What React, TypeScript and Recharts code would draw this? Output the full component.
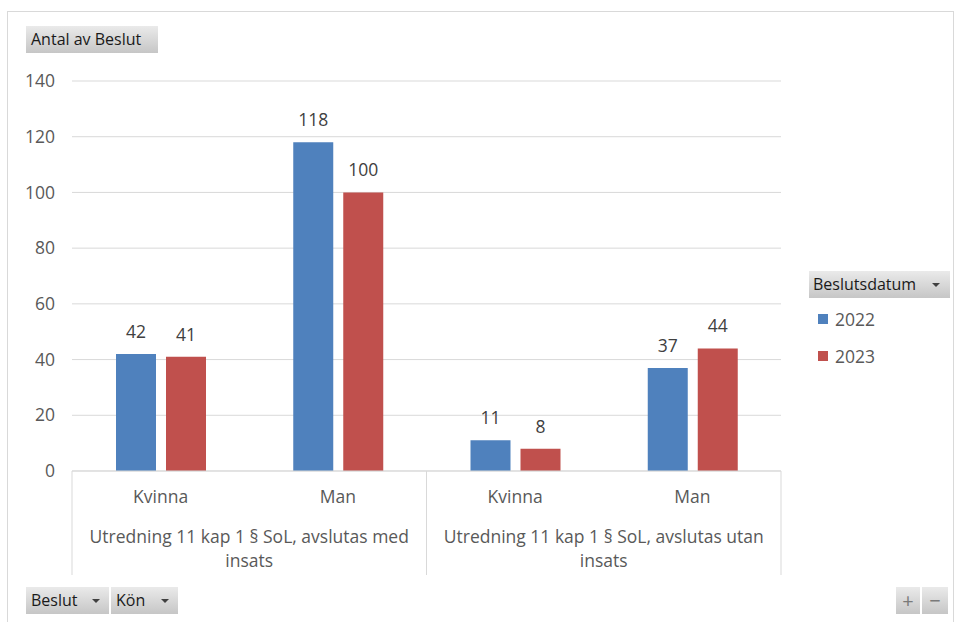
import { BarChart, Bar, XAxis, YAxis, CartesianGrid, LabelList, Legend } from 'recharts';
import type { CSSProperties } from 'react';

// pivot data: Beslut x Kön, series per Beslutsdatum year
const genders = ['Kvinna', 'Man', 'Kvinna', 'Man'];
const groupIndex = [0, 0, 1, 1];
const groupLabels = [
  ['Utredning 11 kap 1 § SoL, avslutas med', 'insats'],
  ['Utredning 11 kap 1 § SoL, avslutas utan', 'insats'],
];
const values2022 = [42, 118, 11, 37];
const values2023 = [41, 100, 8, 44];
const yTicks = [0, 20, 40, 60, 80, 100, 120, 140];

const data = genders.map((g, i) => ({
  gender: g,
  group: groupIndex[i],
  y2022: values2022[i],
  y2023: values2023[i],
}));

const FONT = '"Open Sans", "Liberation Sans", sans-serif';
const TEXT = '#595959';
const GRID = '#d9d9d9';
const FS = 17.5;

function CategoryTick(props: any) {
  const { x, y, payload } = props;
  const i = payload.index;
  const half = payload.offset ?? 88.6;
  const g = data[i].group;
  const first = i === 0 || data[i - 1].group !== g;
  const last = i === data.length - 1;
  const count = data.filter((d) => d.group === g).length;
  const cx = x - half + count * half;
  return (
    <g fontFamily={FONT} fontSize={FS} fill={TEXT}>
      <text x={x} y={y + 32} textAnchor="middle">{payload.value}</text>
      {first && <line x1={x - half} x2={x - half} y1={y} y2={y + 104} stroke={GRID} />}
      {last && <line x1={x + half} x2={x + half} y1={y} y2={y + 104} stroke={GRID} />}
      {first &&
        groupLabels[g].map((line, k) => (
          <text key={k} x={cx} y={y + 72 + k * 24} textAnchor="middle">{line}</text>
        ))}
    </g>
  );
}

function LegendBox(props: any) {
  const items = props.payload || [];
  return (
    <div style={{ fontFamily: FONT }}>
      <div style={{ ...btn, position: 'relative', width: 141, paddingLeft: 4 }}>
        Beslutsdatum<Arrow right={10} />
      </div>
      {items.map((it: any, k: number) => (
        <div key={k} style={{ display: 'flex', alignItems: 'center', height: 37, marginTop: k === 0 ? 2 : 0, paddingLeft: 9 }}>
          <span style={{ width: 10, height: 10, background: it.color, marginRight: 7 }} />
          <span style={{ fontSize: FS, color: TEXT }}>{it.value}</span>
        </div>
      ))}
    </div>
  );
}

const btn: CSSProperties = {
  position: 'absolute',
  height: 27,
  boxSizing: 'border-box',
  background: 'linear-gradient(#eaeaea, #c6c6c6)',
  fontFamily: FONT,
  fontSize: 16,
  color: '#1a1a1a',
  lineHeight: '27px',
  paddingLeft: 5,
};

function Arrow({ right }: { right: number }) {
  return (
    <span
      style={{
        position: 'absolute',
        right,
        top: 12,
        width: 0,
        height: 0,
        borderLeft: '4px solid transparent',
        borderRight: '4px solid transparent',
        borderTop: '4px solid #404040',
      }}
    />
  );
}

export default function App() {
  return (
    <div style={{ position: 'absolute', left: 0, top: 0, width: 955, height: 622, background: '#fff', overflow: 'hidden' }}>
      <div style={{ position: 'absolute', left: 7, top: 11, width: 945, height: 640, border: '1px solid #d9d9d9' }} />
      <BarChart
        width={955}
        height={622}
        data={data}
        margin={{ top: 81, right: 174, left: 0, bottom: 47 }}
        barSize={40}
        barGap={10}
        style={{ position: 'absolute', left: 0, top: 0 }}
      >
        <CartesianGrid vertical={false} stroke={GRID} />
        <XAxis
          dataKey="gender"
          interval={0}
          height={104}
          axisLine={{ stroke: GRID }}
          tickLine={false}
          tickSize={0}
          tickMargin={0}
          tick={<CategoryTick />}
        />
        <YAxis
          width={72}
          domain={[0, 140]}
          ticks={yTicks}
          axisLine={false}
          tickLine={false}
          tickSize={0}
          tickMargin={17}
          tick={{ fill: TEXT, fontSize: FS, fontFamily: FONT }}
        />
        <Legend
          layout="vertical"
          align="center"
          verticalAlign="middle"
          content={<LegendBox />}
          wrapperStyle={{ left: 809, top: 271, width: 146 }}
        />
        <Bar dataKey="y2022" name="2022" fill="#4F81BD" isAnimationActive={false}>
          <LabelList dataKey="y2022" position="top" offset={16} fill="#404040" fontSize={FS} fontFamily={FONT} />
        </Bar>
        <Bar dataKey="y2023" name="2023" fill="#C0504D" isAnimationActive={false}>
          <LabelList dataKey="y2023" position="top" offset={16} fill="#404040" fontSize={FS} fontFamily={FONT} />
        </Bar>
      </BarChart>
      <div style={{ ...btn, left: 26, top: 26, width: 132 }}>Antal av Beslut</div>
      <div style={{ ...btn, left: 26, top: 587, width: 83 }}>
        Beslut<Arrow right={9} />
      </div>
      <div style={{ ...btn, left: 111, top: 587, width: 67 }}>
        Kön<Arrow right={9} />
      </div>
      <div style={{ ...btn, left: 896, top: 587, width: 24, paddingLeft: 0, textAlign: 'center', fontSize: 20, color: '#7a7a7a' }}>+</div>
      <div style={{ ...btn, left: 922, top: 587, width: 26, paddingLeft: 0, textAlign: 'center', fontSize: 20, color: '#7a7a7a' }}>−</div>
    </div>
  );
}
